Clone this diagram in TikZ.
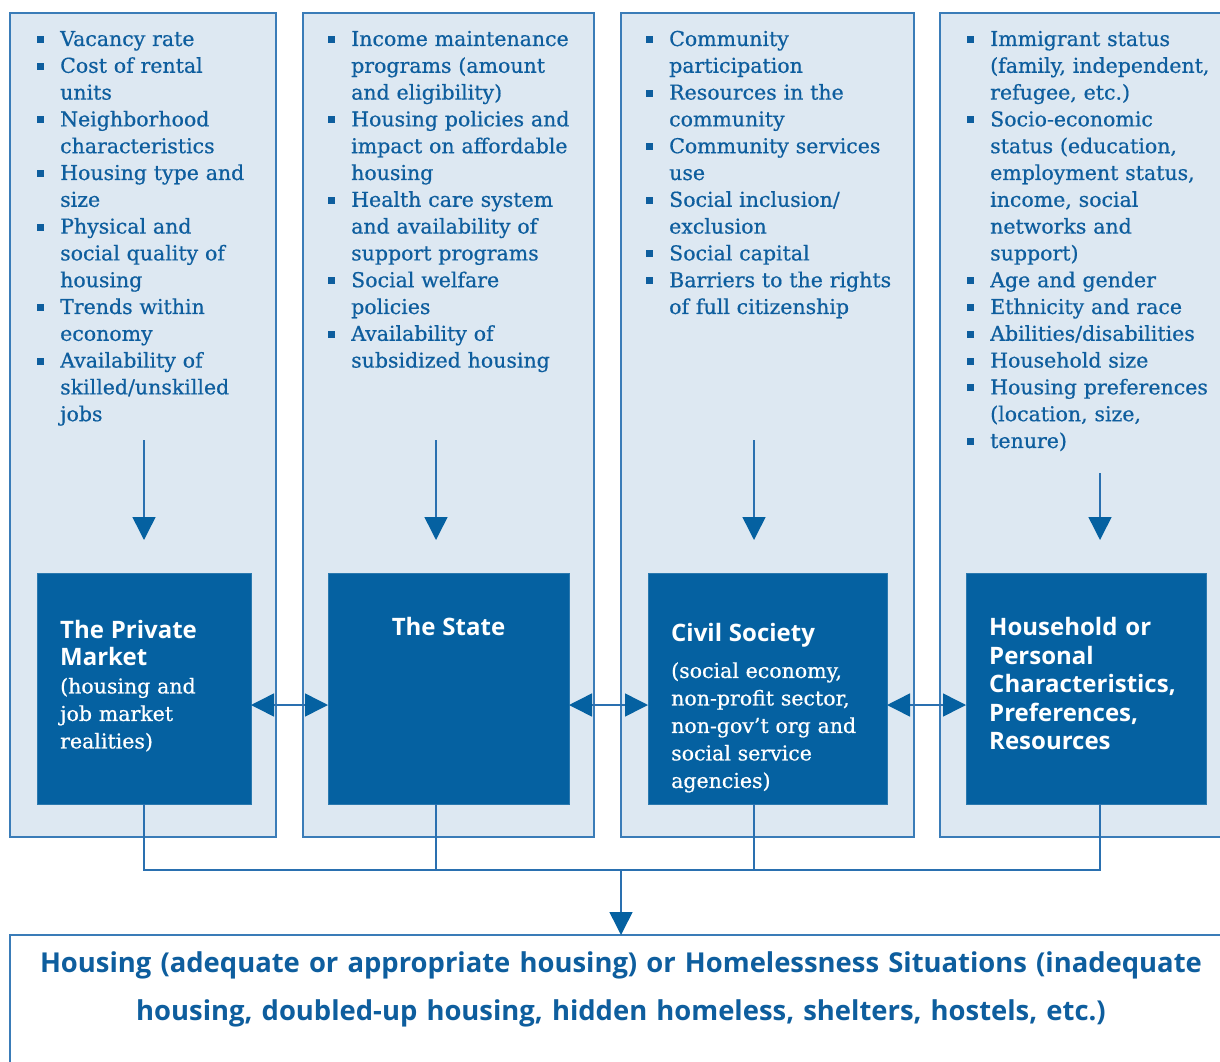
\documentclass[tikz,border=0pt]{standalone}
\usepackage{fontspec}
\setmainfont[FakeBold=0.6]{DejaVu Serif}
\newfontfamily\headfont{Open Sans}
\usepackage{xcolor}
\usetikzlibrary{positioning}
\usetikzlibrary{arrows.meta}
\tikzset{>={Triangle[width=23pt,length=23pt,color=boxblue]}}

\definecolor{panelfill}{RGB}{221,232,242}
\definecolor{panelline}{RGB}{58,124,184}
\definecolor{wireline}{RGB}{42,112,176}
\definecolor{boxblue}{RGB}{5,97,161}
\definecolor{textblue}{RGB}{14,94,158}

\newcommand{\sq}{\par\hangindent=23pt\hangafter=1\noindent\makebox[23pt][l]{\raisebox{3pt}{\rule{7pt}{7pt}}}}
\newcommand{\hd}{\headfont\bfseries\fontsize{24}{27.5}\selectfont}

\begin{document}
\begin{tikzpicture}[x=1pt, y=-1pt, panel/.style={draw=panelline, fill=panelfill, line width=1.5pt, outer sep=0pt, inner sep=0pt, minimum height=824pt}, darkbox/.style={fill=boxblue, draw=boxblue!85!white, outer sep=0pt, inner sep=0pt, minimum height=231pt}, list/.style={text=textblue, inner sep=0pt, text width=265pt, align=left, font=\fontsize{20.5}{26.8}\selectfont}, boxtext/.style={text=white, inner sep=0pt, text width=230pt, align=left, font=\fontsize{20.5}{27.5}\selectfont}, line/.style={draw=wireline, line width=1.5pt}, arrow/.style={line, ->}]

    \useasboundingbox (0,0) rectangle (1220,1062);
    \clip (0,0) rectangle (1220,1062);

    %Nodes
    \node[panel, minimum width=266pt, anchor=north west](p1) at (10,13){};
    \node[panel, minimum width=291pt](p2)[right=27pt of p1]{};
    \node[panel, minimum width=293pt](p3)[right=27pt of p2]{};
    \node[panel, minimum width=293pt](p4)[right=26pt of p3]{};

    \node[darkbox, minimum width=214pt](bx1)[above right=33pt and 27pt of p1.south west]{};
    \node[darkbox, minimum width=241pt](bx2)[above right=33pt and 25pt of p2.south west]{};
    \node[darkbox, minimum width=239pt](bx3)[above right=33pt and 27pt of p3.south west]{};
    \node[darkbox, minimum width=240pt](bx4)[above right=33pt and 26pt of p4.south west]{};

    \node[list](l1)[below right=6pt and 27pt of p1.north west]{\sq Vacancy rate \sq Cost of rental\newline units \sq Neighborhood\newline characteristics \sq Housing type and\newline size \sq Physical and\newline social quality of\newline housing \sq Trends within\newline economy \sq Availability of\newline skilled/unskilled\newline jobs\par};
    \node[list](l2)[below right=6pt and 25pt of p2.north west]{\sq Income maintenance\newline programs (amount\newline and eligibility) \sq Housing policies and\newline impact on affordable\newline housing \sq Health care system\newline and availability of\newline support programs \sq Social welfare\newline policies \sq Availability of\newline subsidized housing\par};
    \node[list](l3)[below right=6pt and 25pt of p3.north west]{\sq Community\newline participation \sq Resources in the\newline community \sq Community services\newline use \sq Social inclusion/\newline exclusion \sq Social capital \sq Barriers to the rights\newline of full citizenship\par};
    \node[list](l4)[below right=6pt and 27pt of p4.north west]{\sq Immigrant status\newline (family, independent,\newline refugee, etc.) \sq Socio-economic\newline status (education,\newline employment status,\newline income, social\newline networks and\newline support) \sq Age and gender \sq Ethnicity and race \sq Abilities/disabilities \sq Household size \sq Housing preferences\newline (location, size, \sq tenure)\par};

    \node[boxtext](t1)[below right=47pt and 23pt of bx1.north west]{{\hd The Private\\Market}\\(housing and\\job market\\realities)};
    \node[boxtext, text width=200pt, align=center](t2)[below=44pt of bx2.north]{\hd The State};
    \node[boxtext](t3)[below right=50pt and 23pt of bx3.north west]{{\hd Civil Society}\\[9pt](social economy,\\non-profit sector,\\non-gov't org and\\social service\\agencies)};
    \node[boxtext, font=\headfont\bfseries\fontsize{24}{28.6}\selectfont](t4)[below right=44pt and 23pt of bx4.north west]{Household or\\Personal\\Characteristics,\\Preferences,\\Resources};

    \node[draw=panelline, line width=1.5pt, fill=white, outer sep=0pt, anchor=north west, minimum width=1222pt, minimum height=160pt](out) at (10,935){};
    \node[text=textblue, inner sep=0pt, text width=1220pt, align=center, font=\headfont\bfseries\fontsize{27.4}{48}\selectfont](outtext)[below=16pt of out.north]{Housing (adequate or appropriate housing) or Homelessness Situations (inadequate\\housing, doubled-up housing, hidden homeless, shelters, hostels, etc.)};

    %Lines
    \draw[arrow] ([yshift=133pt]bx1.north) -- ([yshift=33pt]bx1.north);
    \draw[arrow] ([xshift=-12.5pt, yshift=133pt]bx2.north) -- ([xshift=-12.5pt, yshift=33pt]bx2.north);
    \draw[arrow] ([xshift=-13.5pt, yshift=133pt]bx3.north) -- ([xshift=-13.5pt, yshift=33pt]bx3.north);
    \draw[arrow] ([xshift=14pt, yshift=100pt]bx4.north) -- ([xshift=14pt, yshift=33pt]bx4.north);

    \draw[arrow, <->] ([yshift=-16.5pt]bx1.east) -- ([yshift=-16.5pt]bx2.west);
    \draw[arrow, <->] ([yshift=-16.5pt]bx2.east) -- ([yshift=-16.5pt]bx3.west);
    \draw[arrow, <->] ([yshift=-16.5pt]bx3.east) -- ([yshift=-16.5pt]bx4.west);

    \draw[line] (bx1.south) |- ([xshift=14pt, yshift=-66pt]bx4.south) -- ([xshift=14pt]bx4.south);
    \draw[line] ([xshift=-12.5pt]bx2.south) -- ([xshift=-12.5pt, yshift=-66pt]bx2.south);
    \draw[line] ([xshift=-13.5pt]bx3.south) -- ([xshift=-13.5pt, yshift=-66pt]bx3.south);
    \draw[arrow] ([yshift=65pt]out.north) -- (out.north);

\end{tikzpicture}
\end{document}
